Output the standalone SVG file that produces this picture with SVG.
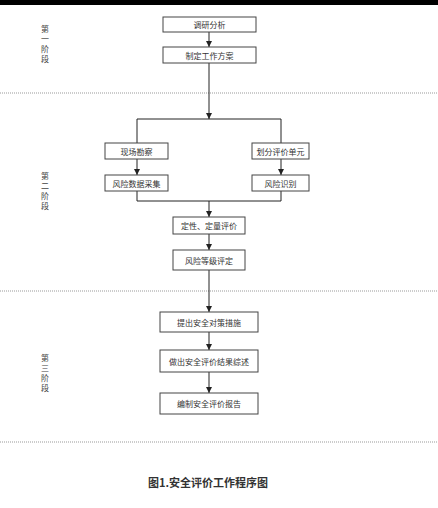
<svg xmlns="http://www.w3.org/2000/svg" width="438" height="508" viewBox="0 0 438 508">
<defs>
<marker id="ah" viewBox="0 0 10 10" refX="10" refY="5" markerWidth="6" markerHeight="6" orient="auto" markerUnits="userSpaceOnUse">
<path d="M0,0 L10,5 L0,10 Z" fill="#222"/>
</marker>
<style>
.box{fill:#fff;stroke:#444;stroke-width:1}
.t{font-family:"Noto Sans CJK SC","Noto Sans",sans-serif;font-size:8px;fill:#333;text-anchor:middle;dominant-baseline:central}
.st{font-family:"Noto Sans CJK SC","Noto Sans",sans-serif;font-size:8px;fill:#444;text-anchor:middle;dominant-baseline:central}
.ln{fill:none;stroke:#222;stroke-width:1}
.dash{stroke:#999;stroke-width:1;stroke-dasharray:1 1}
.title{font-family:"Noto Sans CJK SC","Noto Sans",sans-serif;font-size:11px;font-weight:bold;fill:#333;text-anchor:middle;dominant-baseline:central}
</style>
</defs>
<rect x="0" y="0" width="438" height="508" fill="#fff"/>
<rect x="0" y="0" width="438" height="5" fill="#000"/>
<g id="dividers">
<line class="dash" x1="0" y1="93" x2="438" y2="93"/>
<line class="dash" x1="0" y1="291" x2="438" y2="291"/>
<line class="dash" x1="0" y1="442" x2="438" y2="442"/>
</g>
<g id="stage1"><text class="st" x="45" y="28">第</text><text class="st" x="45" y="38">一</text><text class="st" x="45" y="48">阶</text><text class="st" x="45" y="58">段</text></g>
<g id="stage2"><text class="st" x="45" y="175">第</text><text class="st" x="45" y="185">二</text><text class="st" x="45" y="195">阶</text><text class="st" x="45" y="205">段</text></g>
<g id="stage3"><text class="st" x="45" y="357">第</text><text class="st" x="45" y="367">三</text><text class="st" x="45" y="377">阶</text><text class="st" x="45" y="387">段</text></g>
<g id="connectors">
<line class="ln" x1="209" y1="32" x2="209" y2="47" marker-end="url(#ah)"/>
<line class="ln" x1="209" y1="63" x2="209" y2="119" marker-end="url(#ah)"/>
<polyline class="ln" points="137,143 137,119 281,119 281,143"/>
<line class="ln" x1="137" y1="159" x2="137" y2="175" marker-end="url(#ah)"/>
<line class="ln" x1="281" y1="159" x2="281" y2="175" marker-end="url(#ah)"/>
<polyline class="ln" points="137,191 137,201 281,201 281,191"/>
<line class="ln" x1="209" y1="201" x2="209" y2="217" marker-end="url(#ah)"/>
<line class="ln" x1="209" y1="234" x2="209" y2="250" marker-end="url(#ah)"/>
<line class="ln" x1="209" y1="270" x2="209" y2="312" marker-end="url(#ah)"/>
<line class="ln" x1="209" y1="332" x2="209" y2="350" marker-end="url(#ah)"/>
<line class="ln" x1="209" y1="372" x2="209" y2="393" marker-end="url(#ah)"/>
</g>
<g id="n1"><rect class="box" x="163" y="17" width="93" height="15"/><text class="t" x="209.5" y="24.5">调研分析</text></g>
<g id="n2"><rect class="box" x="163" y="47" width="93" height="16"/><text class="t" x="209.5" y="55">制定工作方案</text></g>
<g id="n3"><rect class="box" x="105" y="143" width="63" height="16"/><text class="t" x="136.5" y="151">现场勘察</text></g>
<g id="n4"><rect class="box" x="252" y="143" width="57" height="16"/><text class="t" x="280.5" y="151">划分评价单元</text></g>
<g id="n5"><rect class="box" x="105" y="175" width="63" height="16"/><text class="t" x="136.5" y="183">风险数据采集</text></g>
<g id="n6"><rect class="box" x="252" y="175" width="57" height="16"/><text class="t" x="280.5" y="183">风险识别</text></g>
<g id="n7"><rect class="box" x="173" y="217" width="72" height="17"/><text class="t" x="209" y="225.5">定性、定量评价</text></g>
<g id="n8"><rect class="box" x="173" y="250" width="72" height="20"/><text class="t" x="209" y="260">风险等级评定</text></g>
<g id="n9"><rect class="box" x="160" y="312" width="98" height="20"/><text class="t" x="209" y="322">提出安全对策措施</text></g>
<g id="n10"><rect class="box" x="160" y="350" width="98" height="22"/><text class="t" x="209" y="361">做出安全评价结果综述</text></g>
<g id="n11"><rect class="box" x="160" y="393" width="98" height="21"/><text class="t" x="209" y="403.5">编制安全评价报告</text></g>
<text class="title" x="208" y="482">图1.安全评价工作程序图</text>
</svg>
